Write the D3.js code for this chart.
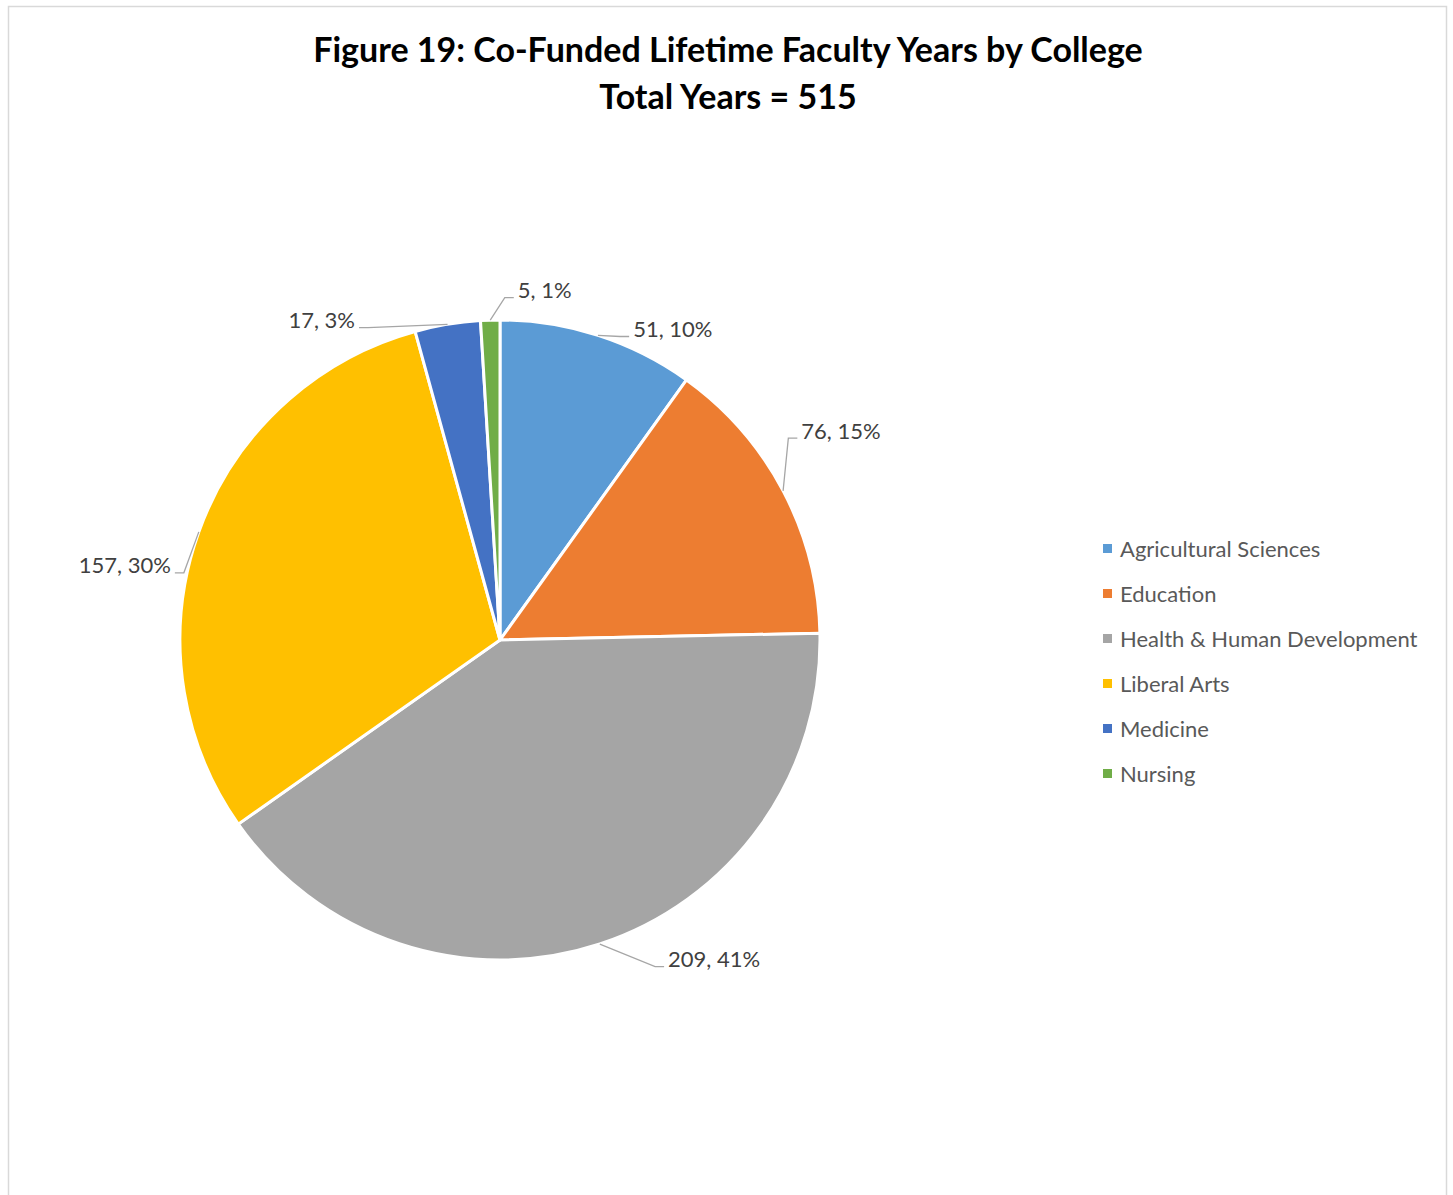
<!DOCTYPE html>
<meta charset="utf-8">
<script src="https://cdn.jsdelivr.net/npm/d3@7"></script>
<style>
  body { margin: 0; background: #fff; }
  text { font-family: Lato, "Open Sans", sans-serif; }
</style>
<body>
<div id="chart"></div>
<script>
// ----- data
var colleges = ["Agricultural Sciences", "Education", "Health & Human Development", "Liberal Arts", "Medicine", "Nursing"]
var years = [51, 76, 209, 157, 17, 5]
var colors = ["#5B9BD5", "#ED7D31", "#A5A5A5", "#FFC000", "#4472C4", "#70AD47"]
var titleLines = ["Figure 19: Co-Funded Lifetime Faculty Years by College", "Total Years = 515"]
// where each data label sits (angle in degrees, radius as share of pie radius)
var labelAngle = [21.6, 55, 154.6, 282, 337.1, 0.8]
var labelRadius = [1.02, 1.10, 1.13, 1.01, 1.06, 1.07]

var width = 1453
var height = 1195
var cx = 500, cy = 640, radius = 320

var svg = d3.select("#chart")
            .append("svg")
            .attr("width", width)
            .attr("height", height)

// chart border
svg.append("rect")
   .attr("x", 8.5)
   .attr("y", 6.5)
   .attr("width", 1438)
   .attr("height", 1200)
   .attr("fill", "none")
   .attr("stroke", "#d9d9d9")
   .attr("stroke-width", 1.5)

// title
svg.selectAll(".title")
   .data(titleLines)
   .enter()
   .append("text")
   .attr("class", "title")
   .attr("x", 728)
   .attr("y", function(d, i) { return 62 + i * 47 })
   .attr("text-anchor", "middle")
   .style("font-size", "34px")
   .style("font-weight", 700)
   .attr("fill", "#000")
   .text(function(d) { return d })

var total = d3.sum(years)
var data = colleges.map(function(c, i) { return {name: c, value: years[i], color: colors[i], i: i} })

var pie = d3.pie()
            .sort(null)
            .value(function(d) { return d.value })
var arcs = pie(data)

var arc = d3.arc().innerRadius(0).outerRadius(radius)
var edge = d3.arc().innerRadius(radius).outerRadius(radius)

var g = svg.append("g")
           .attr("transform", "translate(" + cx + "," + cy + ")")

g.selectAll("path.slice")
 .data(arcs)
 .enter()
 .append("path")
 .attr("class", "slice")
 .attr("d", arc)
 .attr("fill", function(d) { return d.data.color })
 .attr("stroke", "#fff")
 .attr("stroke-width", 3)
 .attr("stroke-linejoin", "round")

// ----- data labels with leader lines
var pct = d3.format(".0%")
arcs.forEach(function(d, i) {
  var mid = (d.startAngle + d.endAngle) / 2
  var p0 = edge.centroid({startAngle: mid, endAngle: mid})
  var a = labelAngle[i] * Math.PI / 180
  var r = radius * labelRadius[i]
  var elbow = d3.arc().innerRadius(r).outerRadius(r).centroid({startAngle: a, endAngle: a})
  var right = labelAngle[i] < 180
  var tail = right ? 9 : -9
  var p2 = [elbow[0] + tail, elbow[1]]

  g.append("polyline")
   .attr("points", [p0, elbow, p2].map(function(p) { return p.join(",") }).join(" "))
   .attr("fill", "none")
   .attr("stroke", "#a6a6a6")
   .attr("stroke-width", 1.3)

  g.append("text")
   .attr("x", p2[0] + (right ? 4 : -4))
   .attr("y", p2[1] - 8)
   .attr("dominant-baseline", "central")
   .attr("text-anchor", right ? "start" : "end")
   .style("font-size", "22px")
   .attr("fill", "#404040")
   .text(d.data.value + ", " + pct(d.data.value / total))
})

// ----- legend
var legendY = d3.scalePoint()
                .domain(colleges)
                .range([548.5, 773.5])

var legend = svg.selectAll(".legend")
                .data(data)
                .enter()
                .append("g")
                .attr("class", "legend")
                .attr("transform", function(d) { return "translate(1103," + legendY(d.name) + ")" })

legend.append("rect")
      .attr("x", 0)
      .attr("y", -4.5)
      .attr("width", 9)
      .attr("height", 9)
      .attr("fill", function(d) { return d.color })

legend.append("text")
      .attr("x", 17)
      .attr("y", 0)
      .attr("dominant-baseline", "central")
      .style("font-size", "22px")
      .attr("fill", "#595959")
      .text(function(d) { return d.name })
</script>
</body>
